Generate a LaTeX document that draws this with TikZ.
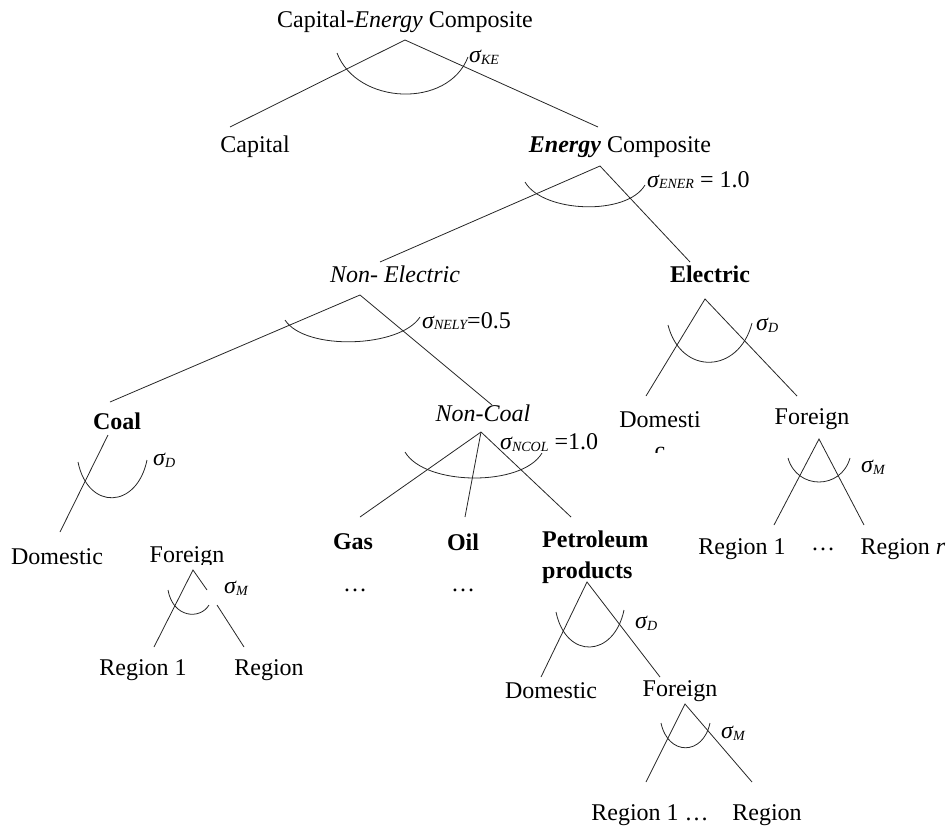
\documentclass[tikz,border=0pt]{standalone}
\usepackage{fontspec}
\setmainfont{Liberation Serif}
\newcommand{\sg}[1]{{\itshape σ}{\fontsize{14}{14}\selectfont\itshape\raisebox{-0.3ex}{#1}}}
\begin{document}
\begin{tikzpicture}[x=1pt,y=-1pt,
  txt/.style={inner sep=0pt,font=\fontsize{24}{28}\selectfont},
  bt/.style={txt,font=\fontsize{24}{28}\selectfont\bfseries},
  lab/.style={inner sep=0pt,anchor=west,font=\fontsize{24}{28}\selectfont},
  ln/.style={draw=black!85,line width=0.8pt},
  ar/.style={draw=black!85,line width=0.8pt}]
\useasboundingbox (0,0) rectangle (947,825);
% text nodes
\node[txt] (cec) at (405,22) {Capital-\textit{Energy} Composite};
\node[txt] (cap) at (255,147) {Capital};
\node[txt] (ec) at (620,147) {\textbf{\textit{Energy}} Composite};
\node[txt] (ne) at (395,274) {\textit{Non- Electric}};
\node[bt] (el) at (710,274) {Electric};
\node[bt] (coal) at (117,421) {Coal};
\node[txt] (nc) at (483,413) {\textit{Non-Coal}};
\node[txt] (edom) at (660,420) {Domesti};
\begin{scope}
\clip (630,440) rectangle (690,452);
\node[txt] (edomc) at (660,453) {c};
\end{scope}
\node[txt] (efor) at (812,419) {Foreign};
\node[txt] (er1) at (742,549) {Region 1};
\node[txt] (edots) at (823,549) {…};
\node[txt] (err) at (903,549) {Region \textit{r}};
\node[txt] (cdom) at (57,557) {Domestic};
\node[txt] (cfor) at (187,557) {Foreign};
\fill[white] (165,565) rectangle (228,576);
\node[txt] (cr1) at (143,670) {Region 1};
\node[txt] (cr) at (269,670) {Region};
\node[bt] (gas) at (353,542) {Gas};
\node[bt] (oil) at (463,542) {Oil};
\node[bt,anchor=west,align=left,font=\fontsize{24}{31}\selectfont\bfseries] (pet) at (542,557) {Petroleum\\products};
\node[txt] (gd) at (355,590) {…};
\node[txt] (od) at (463,590) {…};
\node[txt] (pdom) at (551,691) {Domestic};
\node[txt] (pfor) at (680,691) {Foreign};
\node[txt] (pr1) at (650,815) {Region 1 …};
\node[txt] (pr) at (767,815) {Region};
% sigma labels
\node[lab] (sKE) at (469,57) {\sg{KE}};
\node[lab] (sENER) at (647,180) {\sg{ENER} = 1.0};
\node[lab] (sNELY) at (422,321) {\sg{NELY}=0.5};
\node[lab] (sDe) at (756,325) {\sg{D}};
\node[lab] (sMe) at (861,467) {\sg{M}};
\node[lab] (sDc) at (153,460) {\sg{D}};
\node[lab] (sMc) at (224,588) {\sg{M}};
\node[lab] (sNCOL) at (500,443) {\sg{NCOL} =1.0};
\node[lab] (sDp) at (635,623) {\sg{D}};
\node[lab] (sMp) at (721,733) {\sg{M}};
% coordinates
\coordinate (a1) at (405,40); \coordinate (a1l) at (230,127); \coordinate (a1r) at (598,127);
\coordinate (a2) at (600,166); \coordinate (a2l) at (380,262); \coordinate (a2r) at (690,262);
\coordinate (a3) at (360,295); \coordinate (a3l) at (110,402); \coordinate (a3r) at (492,405);
\coordinate (a4) at (705,299); \coordinate (a4l) at (646,396); \coordinate (a4r) at (797,396);
\coordinate (a5) at (819,439); \coordinate (a5l) at (774,525); \coordinate (a5r) at (864,525);
\coordinate (a6) at (108,435); \coordinate (a6l) at (60,532);
\coordinate (a7) at (193,570); \coordinate (a7l) at (154,647); \coordinate (a7m) at (207,590);
\coordinate (a7n) at (217,605); \coordinate (a7r) at (244,647);
\coordinate (a8) at (481,432); \coordinate (a8l) at (360,517); \coordinate (a8m) at (465,517); \coordinate (a8r) at (571,517);
\coordinate (a9) at (587,582); \coordinate (a9l) at (541,677); \coordinate (a9r) at (660,677);
\coordinate (a10) at (685,704); \coordinate (a10l) at (646,782); \coordinate (a10r) at (752,782);
% lines
\draw[ln] (a1l) -- (a1) -- (a1r);
\draw[ln] (a2l) -- (a2) -- (a2r);
\draw[ln] (a3l) -- (a3) -- (a3r);
\draw[ln] (a4l) -- (a4) -- (a4r);
\draw[ln] (a5l) -- (a5) -- (a5r);
\draw[ln] (a6) -- (a6l);
\draw[ln] (a7l) -- (a7) -- (a7m);
\draw[ln] (a7n) -- (a7r);
\draw[ln] (a8) -- (a8l); \draw[ln] (a8) -- (a8m); \draw[ln] (a8) -- (a8r);
\draw[ln] (a9l) -- (a9) -- (a9r);
\draw[ln] (a10l) -- (a10) -- (a10r);
% arcs
\draw[ar] (337,53) .. controls (357,105) and (448,109) .. (468,57);
\draw[ar] (525,182) .. controls (543,213) and (627,216) .. (645,185);
\draw[ar] (285,320) .. controls (305,351) and (400,348) .. (420,317);
\draw[ar] (668,325) .. controls (681,376) and (739,374) .. (752,323);
\draw[ar] (788,458) .. controls (797,490) and (841,490) .. (850,458);
\draw[ar] (78,462) .. controls (88,511) and (137,509) .. (147,460);
\draw[ar] (168,590) .. controls (173,618) and (200,620) .. (209,605);
\draw[ar] (405,452) .. controls (425,486) and (522,487) .. (542,453);
\draw[ar] (556,612) .. controls (566,660) and (614,658) .. (624,610);
\draw[ar] (661,723) .. controls (668,756) and (703,756) .. (710,723);
\end{tikzpicture}
\end{document}
